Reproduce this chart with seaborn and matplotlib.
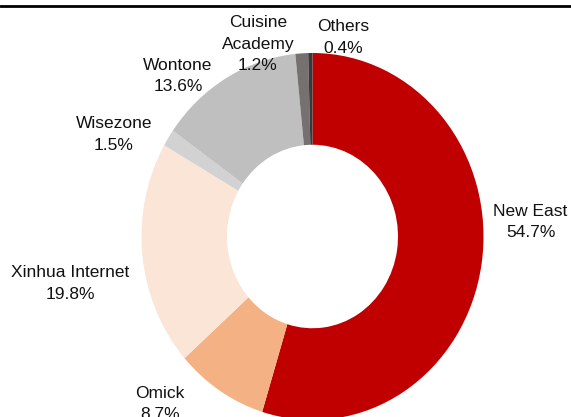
import matplotlib
matplotlib.use("Agg")
import matplotlib.pyplot as plt
import seaborn as sns
from matplotlib.lines import Line2D
from matplotlib import font_manager

categories = ["New East", "Omick", "Xinhua Internet", "Wisezone", "Wontone", "Cuisine\nAcademy", "Others"]
shares = [54.7, 8.7, 19.8, 1.5, 13.6, 1.2, 0.4]
colors = ["#C00000", "#F4B183", "#FBE5D6", "#D3D2D3", "#BFBFBF", "#767171", "#3A3838"]
# label anchor positions (in units of the outer radius, relative to the centre)
label_pos = [(1.275, 0.080), (-0.892, -0.913), (-1.415, -0.257), (-1.161, 0.557),
             (-0.786, 0.875), (-0.319, 1.049), (0.178, 1.083)]

sns.set_theme(style="white")
names = {f.name for f in font_manager.fontManager.ttflist}
if "Liberation Sans Narrow" in names:
    fam, fsize, lsp = ["Liberation Sans Narrow", "DejaVu Sans"], 15, 1.3
else:
    fam, fsize, lsp = ["Liberation Sans", "DejaVu Sans"], 12.5, 1.55
plt.rcParams['font.family'] = fam

fig = plt.figure(figsize=(5.71, 4.17), dpi=100)
ax = fig.add_axes([0, 0, 1, 1])
W, H = 571, 417
cx, cy, rx, ry = 312.5, 236.5, 171.0, 183.5

ax.pie(shares, colors=colors, startangle=90, counterclock=False, radius=1.0,
       wedgeprops=dict(width=0.5, linewidth=0), center=(0, 0), frame=True)
ax.set_aspect("auto")
ax.set_xlim(-cx / rx, (W - cx) / rx)
ax.set_ylim((cy - H) / ry, cy / ry)
ax.axis("off")

for name, val, (x, y) in zip(categories, shares, label_pos):
    ax.text(x, y, f"{name}\n{val:.1f}%", ha="center", va="center",
            fontsize=fsize, color="#111111", linespacing=lsp)

fig.add_artist(Line2D([0, 1], [1 - 5.6 / H, 1 - 5.6 / H], color="black", linewidth=2.0,
                      transform=fig.transFigure))

fig.savefig("out.png", dpi=100)
